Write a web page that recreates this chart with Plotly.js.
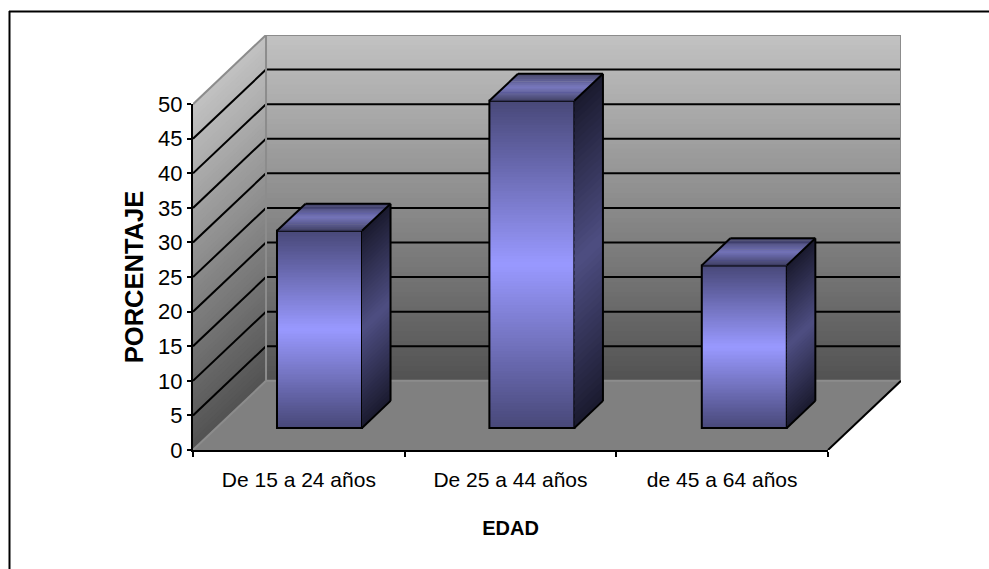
<!DOCTYPE html>
<html>
<head>
<meta charset="utf-8">
<script src="https://cdn.plot.ly/plotly-3.0.1.min.js"></script>
<style>html,body{margin:0;padding:0;background:#fff}</style>
</head>
<body>
<div id="chart" style="width:989px;height:569px"></div>
<script>
// Age groups and the share of each one, in percent
const categories = ['De 15 a 24 años', 'De 25 a 44 años', 'de 45 a 64 años'];
const percentages = [28.5, 47.3, 23.5];
const valueTicks = [0, 5, 10, 15, 20, 25, 30, 35, 40, 45, 50];
const xTitle = 'EDAD';
const yTitle = 'PORCENTAJE';

// Oblique box projection, in axis units: one depth unit moves a point
// right and up by these amounts
const DEPTH_X = 0.345, DEPTH_Y = 10;
const YMAX = 50, CATS = categories.length;
const project = (cx, v, d) => [cx + d * DEPTH_X, v + d * DEPTH_Y];

// Bar footprint inside the box
const BAR_WIDTH = 0.4016, BAR_SHIFT = 0.5976, BAR_STEP = 1.0035, BAR_D0 = 0.319, BAR_D1 = 0.71;

const lerp = (a, b, t) => a + (b - a) * t;
const rgb = c => `rgb(${c.map(Math.round).join(',')})`;
function ramp(stops, t) {
  for (let i = 1; i < stops.length; i++) {
    if (t <= stops[i][0]) {
      const [t0, c0] = stops[i - 1], [t1, c1] = stops[i];
      const k = (t - t0) / (t1 - t0);
      return c0.map((v, j) => lerp(v, c1[j], k));
    }
  }
  return stops[stops.length - 1][1];
}

const FRONT = [[0, [72, 72, 120]], [0.5, [153, 153, 255]], [1, [72, 72, 120]]];
const SIDE = [[0, [26, 26, 46]], [0.5, [78, 78, 130]], [1, [26, 26, 46]]];
const CAP = [[0, [58, 58, 98]], [0.5, [114, 114, 192]], [1, [58, 58, 98]]];
const WALL = [[0, [82, 82, 82]], [1, [194, 194, 194]]];

const poly = pts => 'M' + pts.map(p => p.join(' ')).join('L') + 'Z';
const shapes = [];
const band = (pts, color, layer) => shapes.push({
  type: 'path', xref: 'x', yref: 'y', layer, path: poly(pts),
  fillcolor: color, line: {width: 0}
});
const edge = (a, b, color, width, layer) => shapes.push({
  type: 'line', xref: 'x', yref: 'y', layer,
  x0: a[0], y0: a[1], x1: b[0], y1: b[1], line: {color, width}
});

// Floor
band([project(0, 0, 0), project(CATS, 0, 0), project(CATS, 0, 1), project(0, 0, 1)], '#808080', 'below');

// Left and back walls, shaded bottom to top; each band runs a little past the
// next one so no seams show between them
const WALL_BANDS = 70;
for (let i = 0; i < WALL_BANDS; i++) {
  const v0 = YMAX * i / WALL_BANDS, v1 = i === WALL_BANDS - 1 ? YMAX : YMAX * (i + 1.4) / WALL_BANDS;
  const col = rgb(ramp(WALL, (i + 0.5) / WALL_BANDS));
  band([project(0, v0, 0), project(0, v0, 1), project(0, v1, 1), project(0, v1, 0)], col, 'below');
  band([project(0, v0, 1), project(CATS, v0, 1), project(CATS, v1, 1), project(0, v1, 1)], col, 'below');
}

// Wall grid lines
valueTicks.filter(v => v > 0 && v < YMAX).forEach(v => {
  edge(project(0, v, 0), project(0, v, 1), '#000', 2, 'below');
  edge(project(0, v, 1), project(CATS, v, 1), '#000', 2, 'below');
});

// Wall and floor outlines
[[project(0, YMAX, 0), project(0, YMAX, 1)],
 [project(0, YMAX, 1), project(CATS, YMAX, 1)],
 [project(0, 0, 1), project(0, YMAX, 1)],
 [project(CATS, 0, 1), project(CATS, YMAX, 1)],
 [project(0, 0, 0), project(0, 0, 1)],
 [project(0, 0, 1), project(CATS, 0, 1)]].forEach(([a, b]) => edge(a, b, '#8c8c8c', 2, 'below'));
edge(project(CATS, 0, 0), project(CATS, 0, 1), '#000', 2, 'below');

// Bars: gradient front, then side and top faces in the depth direction
const lift = BAR_D0 * DEPTH_Y;
const barCenters = percentages.map((_, i) => i * BAR_STEP + BAR_SHIFT);
const fronts = [];
const FRONT_ROWS = 120, FACE_BANDS = 48;
const frontScale = [];
for (let i = 0; i <= 20; i++) frontScale.push([i / 20, rgb(ramp(FRONT, i / 20))]);

percentages.forEach((value, i) => {
  const left = barCenters[i] - BAR_WIDTH / 2, right = barCenters[i] + BAR_WIDTH / 2;
  const dd = BAR_D1 - BAR_D0;
  fronts.push({
    type: 'heatmap', xaxis: 'x', yaxis: 'y', showscale: false, hoverinfo: 'skip',
    x0: barCenters[i], dx: BAR_WIDTH,
    y0: lift + value / FRONT_ROWS / 2, dy: value / FRONT_ROWS,
    z: Array.from({length: FRONT_ROWS}, (_, r) => [(r + 0.5) / FRONT_ROWS]),
    zmin: 0, zmax: 1, colorscale: frontScale
  });
  const sidePt = (v, d) => [right + d * DEPTH_X, lift + v + d * DEPTH_Y];
  const capPt = (x, d) => [x + d * DEPTH_X, lift + value + d * DEPTH_Y];
  for (let b = 0; b < FACE_BANDS; b++) {
    const t0 = b / FACE_BANDS, t1 = b === FACE_BANDS - 1 ? 1 : (b + 1.4) / FACE_BANDS;
    const mid = (b + 0.5) / FACE_BANDS;
    band([sidePt(value * t0, 0), sidePt(value * t0, dd), sidePt(value * t1, dd), sidePt(value * t1, 0)],
      rgb(ramp(SIDE, mid)), 'above');
    band([capPt(left, dd * t0), capPt(right, dd * t0), capPt(right, dd * t1), capPt(left, dd * t1)],
      rgb(ramp(CAP, mid)), 'above');
  }
  // Box edges
  const ink = (a, b) => edge(a, b, '#000', 2, 'above');
  ink(sidePt(0, 0), sidePt(0, dd));
  ink(sidePt(0, dd), sidePt(value, dd));
  ink(sidePt(value, 0), sidePt(value, dd));
  ink(capPt(left, 0), capPt(left, dd));
  ink(capPt(left, dd), capPt(right, dd));
});

// The bars themselves, outlined over their gradients
const barTrace = {
  type: 'bar', xaxis: 'x', yaxis: 'y', x: barCenters, y: percentages,
  base: percentages.map(() => lift), width: BAR_WIDTH, hoverinfo: 'skip',
  marker: {color: 'rgba(0,0,0,0)', line: {color: '#000', width: 2}}
};

// Carrier for the front category and value axes
const axisTrace = {
  type: 'scatter', mode: 'none', xaxis: 'x2', yaxis: 'y2',
  x: categories, y: percentages, hoverinfo: 'skip'
};

// Page rule along the top and left
const px = x => (x - 193) / 708, py = y => (450 - y) / 415;
[[9, 11.5, 989, 11.5], [9.5, 11, 9.5, 569]].forEach(([x0, y0, x1, y1]) => shapes.push({
  type: 'line', xref: 'paper', yref: 'paper', layer: 'above',
  x0: px(x0), y0: py(y0), x1: px(x1), y1: py(y1), line: {color: '#000', width: 2}
}));

const SANS = '"Liberation Sans", Arial, sans-serif';
const layout = {
  width: 989, height: 569, showlegend: false,
  paper_bgcolor: '#fff', plot_bgcolor: 'rgba(0,0,0,0)',
  margin: {l: 193, r: 88, t: 35, b: 119},
  xaxis: {domain: [0, 1], range: [0, CATS + DEPTH_X], visible: false, fixedrange: true},
  yaxis: {domain: [0, 1], range: [0, YMAX + DEPTH_Y], visible: false, fixedrange: true},
  xaxis2: {
    domain: [0, 635 / 708], anchor: 'y2', type: 'category', range: [-0.5, CATS - 0.5],
    tickson: 'boundaries', ticks: 'outside', ticklen: 5, tickwidth: 1.5, tickcolor: '#000',
    ticklabelstandoff: 10,
    showline: true, linecolor: '#000', linewidth: 2, showgrid: false, zeroline: false,
    tickfont: {family: SANS, size: 21, color: '#000'}, fixedrange: true,
    title: {text: xTitle, standoff: 31, font: {family: SANS, size: 20, color: '#000', weight: 700}}
  },
  yaxis2: {
    domain: [0, 346 / 415], anchor: 'x2', range: [0, YMAX], tickvals: valueTicks,
    ticks: 'outside', ticklen: 4, tickwidth: 1.5, tickcolor: '#000',
    showline: true, linecolor: '#000', linewidth: 2, showgrid: false, zeroline: false,
    tickfont: {family: SANS, size: 22, color: '#000'}, fixedrange: true,
    title: {text: yTitle, standoff: 7, font: {family: SANS, size: 25.5, color: '#000', weight: 700}}
  },
  shapes
};

Plotly.newPlot('chart', [...fronts, barTrace, axisTrace], layout, {displayModeBar: false, responsive: false});
</script>
</body>
</html>
